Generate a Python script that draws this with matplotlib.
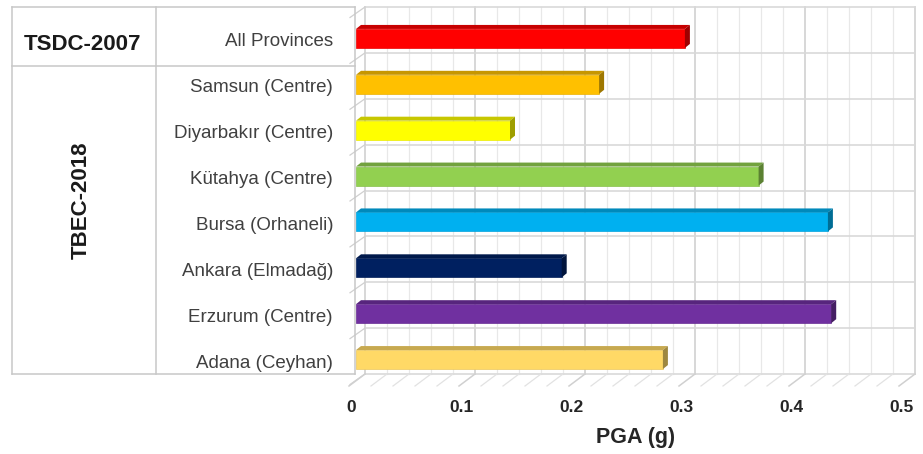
import matplotlib
matplotlib.use("Agg")
import matplotlib.pyplot as plt
import numpy as np
from matplotlib.patches import Polygon
from matplotlib.lines import Line2D
from matplotlib.transforms import blended_transform_factory
import matplotlib.colors as mcolors

plt.rcParams['font.family'] = ['Liberation Sans', 'DejaVu Sans']

# ---------------- data ----------------
categories = ["All Provinces", "Samsun (Centre)", "Diyarbakır (Centre)", "Kütahya (Centre)",
              "Bursa (Orhaneli)", "Ankara (Elmadağ)", "Erzurum (Centre)", "Adana (Ceyhan)"]
pga = [0.299, 0.221, 0.140, 0.366, 0.429, 0.187, 0.432, 0.279]
colors = ["#FF0000", "#FFC000", "#FFFF00", "#92D050", "#00B0F0", "#002060", "#7030A0", "#FFD966"]
group_labels = ["TSDC-2007", "TBEC-2018"]
xticks = [0, 0.1, 0.2, 0.3, 0.4, 0.5]
xtick_labels = ["0", "0.1", "0.2", "0.3", "0.4", "0.5"]
x_title = "PGA (g)"

W, H = 923, 454
fig = plt.figure(figsize=(W / 100, H / 100), dpi=100)

# back wall in pixels: x 0..0.5 -> 365..915 ; rows 0..8 -> y 7..374
bx0, bx1, by0, by1 = 365, 915, 7, 374
ax = fig.add_axes([bx0 / W, 1 - by1 / H, (bx1 - bx0) / W, (by1 - by0) / H])
n = len(categories)
ax.set_xlim(0, 0.5)
ax.set_ylim(n, 0)
ax.axis('off')

pxx = 0.5 / (bx1 - bx0)          # data units per px (x)
pxy = n / (by1 - by0)            # data units per px (y)

# back wall grid
for xv in np.arange(0, 0.5001, 0.02):
    major = abs(xv * 10 - round(xv * 10)) < 1e-6
    ax.plot([xv, xv], [0, n], color="#d4d4d4" if major else "#e8e8e8",
            lw=1.3 if major else 0.9, zorder=1, clip_on=False)
for k in range(n + 1):
    ax.plot([0, 0.5], [k, k], color="#d9d9d9", lw=1.2, zorder=1, clip_on=False)

# floor diagonals
fdx, fdy = -16 * pxx, 12 * pxy
for xv in np.arange(0, 0.5001, 0.02):
    major = abs(xv * 10 - round(xv * 10)) < 1e-6
    ax.plot([xv, xv + fdx], [n, n + fdy], color="#d0d0d0" if major else "#e2e2e2",
            lw=1.1 if major else 0.9, zorder=1, clip_on=False)
# left wall diagonals
ldx, ldy = -15 * pxx, 10.5 * pxy
for k in range(n + 1):
    ax.plot([0, ldx], [k, k + ldy], color="#d0d0d0", lw=0.9, zorder=1, clip_on=False)

# bars (front face offset from the back wall, with 3D top / side faces)
BX, BY = -9 * pxx, 8.5 * pxy
bh = 19 * pxy
DX, DY = 5 * pxx, 4 * pxy


def shade(c, f):
    r, g, b = mcolors.to_rgb(c)
    return (r * f, g * f, b * f)


for i, (v, c) in enumerate(zip(pga, colors)):
    yc = i + 0.5 + BY
    ax.barh(yc, v, left=BX, height=bh, color=c, edgecolor=shade(c, 0.92), lw=0.5,
            zorder=3, clip_on=False)
    yt, yb = yc - bh / 2, yc + bh / 2
    top = Polygon([(BX, yt), (BX + v, yt), (BX + v + DX, yt - DY), (BX + DX, yt - DY)],
                  closed=True, facecolor=shade(c, 0.78), edgecolor='none', zorder=3, clip_on=False)
    side = Polygon([(BX + v, yt), (BX + v, yb), (BX + v + DX, yb - DY), (BX + v + DX, yt - DY)],
                   closed=True, facecolor=shade(c, 0.62), edgecolor='none', zorder=3, clip_on=False)
    ax.add_patch(top)
    ax.add_patch(side)

# x tick labels on the front floor edge
for xv, lab in zip(xticks, xtick_labels):
    ax.text(xv - 14 * pxx, n + (407 - by1) * pxy, lab, ha='center', va='center',
            fontsize=12.5, fontweight='bold', color="#262626", clip_on=False)

fig.text(636 / W, 1 - 438 / H, x_title, ha='center', va='center',
         fontsize=15.5, fontweight='bold', color="#262626")

# table on the left
tcol = "#c8c8c8"
def fline(x0, y0, x1, y1):
    fig.add_artist(Line2D([x0 / W, x1 / W], [1 - y0 / H, 1 - y1 / H], color=tcol, lw=1.1,
                          transform=fig.transFigure))

fline(12, 7, 355, 7)
fline(12, 374, 355, 374)
fline(12, 7, 12, 374)
fline(355, 7, 355, 374)
fline(156, 7, 156, 374)
fline(12, 66, 355, 66)

tr = blended_transform_factory(fig.transFigure, ax.transData)
for i, lab in enumerate(categories):
    ax.text(333 / W, i + 0.5 + 12 * pxy, lab, transform=tr, ha='right', va='center',
            fontsize=13.5, color="#404040", clip_on=False)

fig.text(83 / W, 1 - 44 / H, group_labels[0], ha='center', va='center',
         fontsize=16, fontweight='bold', color="#1a1a1a")
fig.text(81 / W, 1 - 200 / H, group_labels[1], ha='center', va='center', rotation=90,
         fontsize=16, fontweight='bold', color="#1a1a1a")

fig.savefig("out.png", dpi=100)
